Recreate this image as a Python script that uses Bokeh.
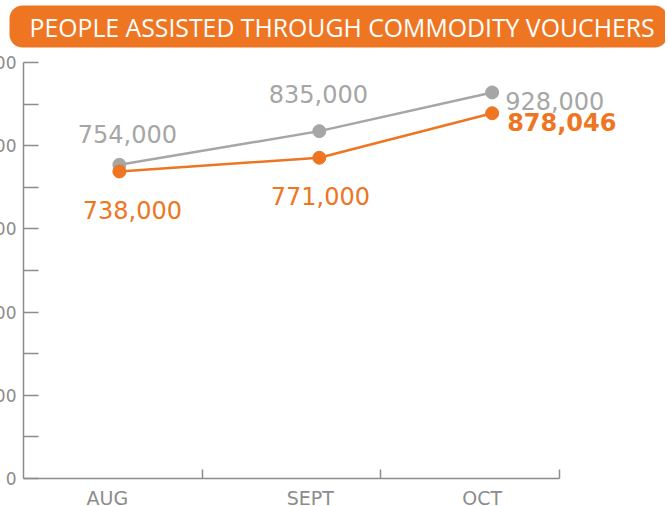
from bokeh.plotting import figure
from bokeh.models import Label, FixedTicker, NumeralTickFormatter, Title
from bokeh.embed import file_html
from bokeh.resources import INLINE

# ---- data ----
title = "PEOPLE ASSISTED THROUGH COMMODITY VOUCHERS"
months = ["AUG", "SEPT", "OCT"]
series_gray = [754000, 835000, 928000]
series_orange = [738000, 771000, 878046]
gray_labels = ["754,000", "835,000", "928,000"]
orange_labels = ["738,000", "771,000", "878,046"]
y_ticks = [0, 200000, 400000, 600000, 800000, 1000000]
y_minor_ticks = [100000, 300000, 500000, 700000, 900000]

# ---- layout (positions along the x axis, in band units) ----
pt_x = [0.537, 1.657, 2.625]
lbl_x = [0.47, 1.606, 2.569]
band_edges = [1, 2, 3]

ORANGE = "#EE7623"
GRAY = "#A6A6A6"
AXIS = "#8C8C8C"

p = figure(width=742, height=531, x_range=(0, 3.4), y_range=(0, 1000000),
           output_backend="svg", toolbar_location=None,
           min_border_left=100, min_border_right=35,
           min_border_top=75, min_border_bottom=40)
p.margin = (-13, 0, 0, -77)
p.outline_line_color = None
p.grid.visible = False
p.background_fill_color = "white"
p.border_fill_color = "white"

p.title = Title(text=title, align="left", offset=-14, standoff=30,
                text_font="Open Sans", text_font_size="24.8px",
                text_font_style="normal", text_color="white",
                background_fill_color=ORANGE, border_radius=13,
                padding=dict(left=20, right=13, top=4, bottom=4))

ya = p.yaxis[0]
ya.ticker = FixedTicker(ticks=y_ticks, minor_ticks=y_minor_ticks)
ya.formatter = NumeralTickFormatter(format="0,0")
ya.major_tick_in = 15
ya.major_tick_out = 0
ya.minor_tick_in = 15
ya.minor_tick_out = 0
ya.axis_line_color = AXIS
ya.major_tick_line_color = AXIS
ya.minor_tick_line_color = AXIS
ya.axis_line_width = 1.5
ya.major_tick_line_width = 1.5
ya.minor_tick_line_width = 1.5
ya.major_label_text_font = "DejaVu Sans"
ya.major_label_text_font_size = "17px"
ya.major_label_text_color = AXIS
ya.major_label_standoff = 7

xa = p.xaxis[0]
xa.bounds = (0, 3)
xa.ticker = FixedTicker(ticks=lbl_x, minor_ticks=band_edges)
xa.major_label_overrides = {x: m for x, m in zip(lbl_x, months)}
xa.major_tick_line_color = None
xa.minor_tick_in = 9
xa.minor_tick_out = 0
xa.minor_tick_line_color = AXIS
xa.minor_tick_line_width = 1.5
xa.axis_line_color = AXIS
xa.axis_line_width = 1.5
xa.major_label_text_font = "DejaVu Sans"
xa.major_label_text_font_size = "19px"
xa.major_label_text_color = AXIS
xa.major_label_standoff = 2

p.line(pt_x, series_gray, line_color=GRAY, line_width=2.5)
p.scatter(pt_x, series_gray, size=13, color=GRAY)
p.line(pt_x, series_orange, line_color=ORANGE, line_width=2.5)
p.scatter(pt_x, series_orange, size=13, color=ORANGE)

# label placement relative to each point (screen px)
gray_off = [(8, 31, "center"), (-1, 37, "center"), (13, -9, "left")]
orange_off = [(13, -39, "center"), (1, -38, "center"), (15, -9, "left")]

for i in range(3):
    dx, dy, al = gray_off[i]
    p.add_layout(Label(x=pt_x[i], y=series_gray[i], text=gray_labels[i],
                       x_offset=dx, y_offset=dy, text_align=al,
                       text_baseline="alphabetic", text_font="DejaVu Sans",
                       text_font_size="24px", text_color=GRAY))
    dx, dy, al = orange_off[i]
    p.add_layout(Label(x=pt_x[i], y=series_orange[i], text=orange_labels[i],
                       x_offset=dx, y_offset=dy, text_align=al,
                       text_baseline="alphabetic", text_font="DejaVu Sans",
                       text_font_size="24px", text_color=ORANGE,
                       text_font_style="bold" if i == 2 else "normal"))

open("out.html", "w").write(file_html(p, INLINE))
